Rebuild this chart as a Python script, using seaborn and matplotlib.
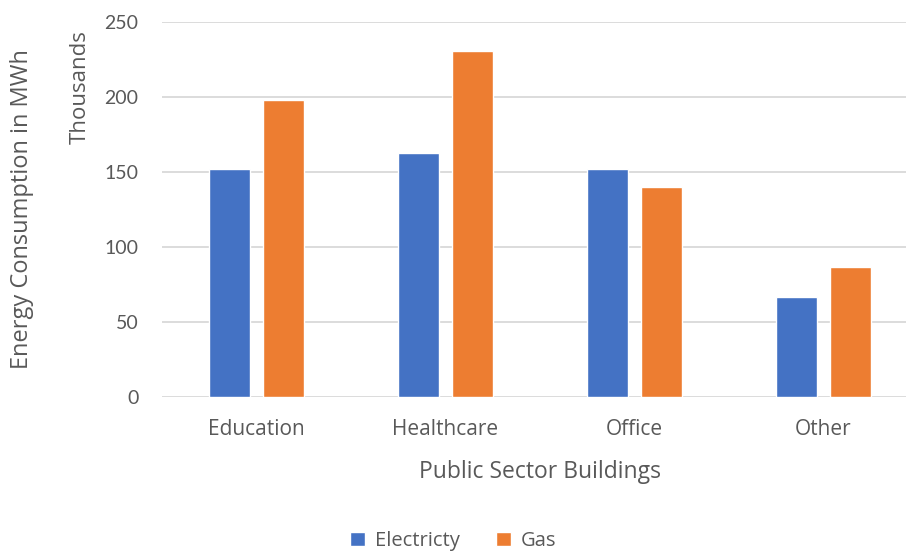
import seaborn as sns
import matplotlib.pyplot as plt
import pandas as pd
from matplotlib.patches import Patch

# values (thousands of MWh)
buildings = ["Education", "Healthcare", "Office", "Other"]
electricity = [152, 163, 152, 66.5]
gas = [198, 231, 140, 86.5]
sources = ["Electricty", "Gas"]
colors = ["#4472C4", "#ED7D31"]

df = pd.DataFrame({
    "Building": buildings * 2,
    "Source": [sources[0]] * 4 + [sources[1]] * 4,
    "Value": electricity + gas,
})

sns.set_style("white")
plt.rcParams['font.family'] = ['Open Sans', 'DejaVu Sans']
txt = "#595959"

fig = plt.figure(figsize=(9.06, 5.54), dpi=100)
ax = fig.add_axes([162 / 906, 1 - 397 / 554, 756 / 906, 375 / 554])

sns.barplot(data=df, x="Building", y="Value", hue="Source", palette=colors,
            width=0.572, gap=0.24, ax=ax, legend=False, saturation=1)

ax.set_ylim(0, 250)
ax.set_xlim(-0.5, 3.5)
ax.set_yticks([0, 50, 100, 150, 200, 250])
ax.yaxis.grid(True, color="#d9d9d9", linewidth=1.3)
ax.set_axisbelow(True)
for s in ax.spines.values():
    s.set_visible(False)
ax.tick_params(axis="both", length=0, colors=txt)
ax.tick_params(axis="y", labelsize=14, pad=17)
ax.tick_params(axis="x", labelsize=15, pad=16)
for lab in ax.get_yticklabels():
    lab.set_family(['Liberation Sans Narrow', 'Lato', 'DejaVu Sans'])

ax.set_ylabel("")
ax.set_xlabel("Public Sector Buildings", fontsize=16.5, color=txt, labelpad=14)
fig.text(22 / 906, 1 - 209 / 554, "Energy Consumption in MWh", rotation=90,
         ha="center", va="center", fontsize=17, color=txt)
fig.text(80 / 906, 1 - 30 / 554, "Thousands", rotation=90, ha="center", va="top",
         fontsize=16, color=txt)

handles = [Patch(facecolor=c, label=l) for c, l in zip(colors, sources)]
fig.legend(handles=handles, loc="center", bbox_to_anchor=(0.5, 1 - 541 / 554),
           ncol=2, frameon=False, fontsize=14.5, labelcolor=txt,
           handlelength=0.75, handleheight=0.75, columnspacing=1.8, handletextpad=0.5)

fig.savefig("out.png", dpi=100)
